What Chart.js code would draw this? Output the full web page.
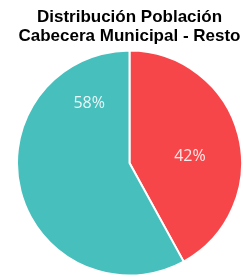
<!DOCTYPE html>
<html>
<head>
<meta charset="utf-8">
<script src="https://cdn.jsdelivr.net/npm/chart.js@4/dist/chart.umd.min.js"></script>
<style>
html,body{margin:0;padding:0;background:#fff;}
#wrap{width:243px;height:277px;position:relative;}
</style>
</head>
<body>
<div id="wrap"><canvas id="c"></canvas></div>
<script>
const titleLines = ["Distribución Población", "Cabecera Municipal - Resto"];
const categories = ["Cabecera Municipal", "Resto"];
const shares = [42, 58];
const sliceColors = ["#F7464A", "#46BFBD"];

const labelPlugin = {
  id: 'sliceLabels',
  afterDatasetsDraw(chart, args, opts) {
    const ctx = chart.ctx;
    const meta = chart.getDatasetMeta(0);
    const data = chart.data.datasets[0].data;
    const total = data.reduce((a, b) => a + b, 0);
    ctx.save();
    ctx.font = opts.font;
    ctx.fillStyle = opts.color;
    ctx.textAlign = 'center';
    ctx.textBaseline = 'middle';
    meta.data.forEach((arc, i) => {
      const p = arc.getProps(['x', 'y', 'startAngle', 'endAngle', 'outerRadius'], true);
      const f = opts.spanFraction[i];
      const r = opts.radiusFraction[i] * p.outerRadius;
      const a = p.startAngle + (p.endAngle - p.startAngle) * f;
      const pct = Math.round(data[i] / total * 100) + '%';
      ctx.fillText(pct, p.x + Math.cos(a) * r, p.y + Math.sin(a) * r);
    });
    ctx.restore();
  }
};

new Chart(document.getElementById('c'), {
  type: 'pie',
  data: {
    labels: categories,
    datasets: [{
      data: shares,
      backgroundColor: sliceColors,
      borderColor: '#ffffff',
      borderWidth: 2
    }]
  },
  options: {
    responsive: true,
    maintainAspectRatio: false,
    animation: false,
    layout: { padding: { left: 16, right: 0, top: 0, bottom: 0 } },
    plugins: {
      legend: { display: false },
      tooltip: { enabled: false },
      title: {
        display: true,
        text: titleLines,
        color: '#000',
        font: { family: 'Liberation Sans', size: 17, weight: 'bold', lineHeight: 1.12 },
        padding: { top: 8, bottom: 3 }
      },
      sliceLabels: {
        font: '16px "Open Sans"',
        color: 'rgba(255,255,255,0.88)',
        spanFraction: [0.555, 0.837],
        radiusFraction: [0.54, 0.64]
      }
    }
  },
  plugins: [labelPlugin]
});
</script>
</body>
</html>
